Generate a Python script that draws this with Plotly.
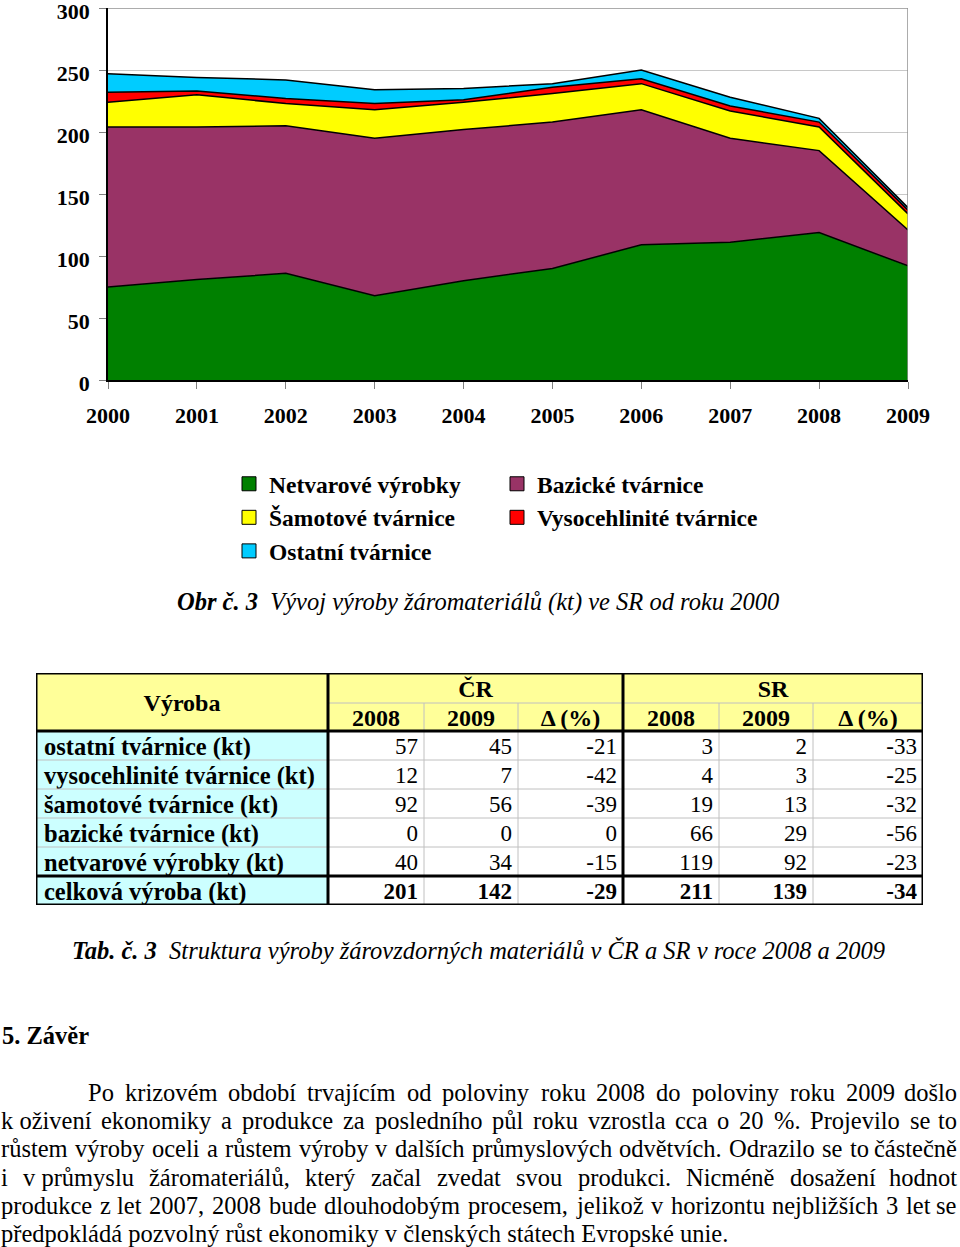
import plotly.graph_objects as go

## DATA

years = [2000, 2001, 2002, 2003, 2004, 2005, 2006, 2007, 2008, 2009]

netvarove = [75, 81, 86, 68, 80, 90, 109, 111, 119, 92]
bazicke = [129, 123, 119, 127, 122, 118, 109, 84, 66, 29]
samotove = [20, 26, 18, 23, 22, 23, 21, 22, 19, 13]
vysocehlinite = [8, 3, 4, 5, 2, 5, 4, 4, 4, 3]
ostatni = [15, 11, 15, 11, 9, 3, 7, 7, 3, 2]

series_names = ["Netvarové výrobky", "Bazické tvárnice", "Šamotové tvárnice",
                "Vysocehlinité tvárnice", "Ostatní tvárnice"]
series_colors = ["#008000", "#993366", "#FFFF00", "#FF0000", "#00CCFF"]

# table
row_labels = ["ostatní tvárnice (kt)", "vysocehlinité tvárnice (kt)", "šamotové tvárnice (kt)",
              "bazické tvárnice (kt)", "netvarové výrobky (kt)", "celková výroba (kt)"]
cr_2008 = [57, 12, 92, 0, 40, 201]
cr_2009 = [45, 7, 56, 0, 34, 142]
cr_delta = [-21, -42, -39, 0, -15, -29]
sr_2008 = [3, 4, 19, 66, 119, 211]
sr_2009 = [2, 3, 13, 29, 92, 139]
sr_delta = [-33, -25, -32, -56, -23, -34]
year_heads = ["2008", "2009", "\u0394 (%)", "2008", "2009", "\u0394 (%)"]

fig_caption = "Obr č. 3"
fig_caption_text = "Vývoj výroby žáromateriálů (kt) ve SR od roku 2000"
tab_caption = "Tab. č. 3"
tab_caption_text = "Struktura výroby žárovzdorných materiálů v ČR a SR v roce 2008 a 2009"
heading = "5. Závěr"
paragraph = [
    "Po krizovém období trvajícím od poloviny roku 2008 do poloviny roku 2009 došlo",
    "k\u00a0oživení ekonomiky a produkce za posledního půl roku vzrostla cca o 20 %. Projevilo se to",
    "růstem výroby oceli a růstem výroby v dalších průmyslových odvětvích. Odrazilo se to částečně",
    "i v\u00a0průmyslu žáromateriálů, který začal zvedat svou produkci. Nicméně dosažení hodnot",
    "produkce z\u00a0let 2007, 2008 bude dlouhodobým procesem, jelikož v horizontu nejbližších 3 let se",
    "předpokládá pozvolný růst ekonomiky v členských státech Evropské unie.",
]

## HELPERS

W, H = 960, 1247
SERIF = "Liberation Serif"


def px(x):
    return x / W


def py(y):
    return 1 - y / H


# Times widths (per 1000 em) to justify the paragraph
base = {' ': 250, '\u00a0': 250, ',': 250, '.': 250, '%': 833, '(': 333, ')': 333,
        'a': 444, 'b': 500, 'c': 444, 'd': 500, 'e': 444, 'f': 333, 'g': 500, 'h': 500,
        'i': 278, 'j': 278, 'k': 500, 'l': 278, 'm': 778, 'n': 500, 'o': 500, 'p': 500,
        'q': 500, 'r': 333, 's': 389, 't': 278, 'u': 500, 'v': 500, 'w': 722, 'x': 500,
        'y': 500, 'z': 444, 'P': 556, 'O': 722, 'N': 722, 'E': 611}
accents = {'á': 'a', 'é': 'e', 'ě': 'e', 'í': 'i', 'ý': 'y', 'ů': 'u', 'ú': 'u', 'č': 'c',
           'ř': 'r', 'š': 's', 'ž': 'z', 'ň': 'n'}


def text_width(s, size):
    tot = 0
    for ch in s:
        ch = accents.get(ch, ch)
        if ch.isdigit():
            tot += 500
        else:
            tot += base.get(ch, 500)
    return tot / 1000 * size


fig = go.Figure()

## AREA CHART

for name, vals, col in zip(series_names,
                           [netvarove, bazicke, samotove, vysocehlinite, ostatni],
                           series_colors):
    fig.add_trace(go.Scatter(x=years, y=vals, stackgroup="one", mode="lines",
                             line=dict(color="black", width=1.5), fillcolor=col,
                             showlegend=False, hoverinfo="skip"))

# legend entries as squares, two columns
left_col = [0, 2, 4]
for i, (name, col) in enumerate(zip(series_names, series_colors)):
    fig.add_trace(go.Scatter(x=[None], y=[None], mode="markers", name=name,
                             marker=dict(symbol="square", size=14, color=col,
                                         line=dict(color="black", width=1)),
                             legend="legend" if i in left_col else "legend2"))

## TABLE

col_w = [292, 96, 94, 105, 96, 94, 110]
row_h = [30, 28, 29, 29, 29, 29, 29, 29]
xe = [0]
for w in col_w:
    xe.append(xe[-1] + w)
ye = [0]
for h in row_h:
    ye.append(ye[-1] + h)

shapes = []
# fills
shapes.append(dict(type="rect", xref="x2", yref="y2", x0=xe[0], x1=xe[-1], y0=ye[0], y1=ye[2],
                   fillcolor="#FFFF99", line_width=0, layer="below"))
shapes.append(dict(type="rect", xref="x2", yref="y2", x0=xe[0], x1=xe[1], y0=ye[2], y1=ye[-1],
                   fillcolor="#CCFFFF", line_width=0, layer="below"))
# thin grid
thin = dict(color="#C0C0C0", width=1)
for k in range(3, 7):
    shapes.append(dict(type="line", xref="x2", yref="y2", x0=xe[0], x1=xe[-1], y0=ye[k], y1=ye[k], line=thin))
shapes.append(dict(type="line", xref="x2", yref="y2", x0=xe[1], x1=xe[-1], y0=ye[1], y1=ye[1], line=thin))
for k in [2, 3, 5, 6]:
    shapes.append(dict(type="line", xref="x2", yref="y2", x0=xe[k], x1=xe[k], y0=ye[1], y1=ye[-1], line=thin))
# thick borders
thick = dict(color="black", width=3)
for k in [2, 7]:
    shapes.append(dict(type="line", xref="x2", yref="y2", x0=xe[0], x1=xe[-1], y0=ye[k], y1=ye[k], line=thick))
for k in [1, 4]:
    shapes.append(dict(type="line", xref="x2", yref="y2", x0=xe[k], x1=xe[k], y0=ye[0], y1=ye[-1], line=thick))
shapes.append(dict(type="rect", xref="x2", yref="y2", x0=xe[0], x1=xe[-1], y0=ye[0], y1=ye[-1], line=thick))

dy = 3  # text sits a little low in the cells
row_c = [(ye[k] + ye[k + 1]) / 2 + dy for k in range(2, 8)]

# header
fig.add_trace(go.Scatter(x=[xe[1] / 2, (xe[1] + xe[4]) / 2, (xe[4] + xe[7]) / 2],
                         y=[ye[2] / 2 + dy, ye[1] / 2 + dy, ye[1] / 2 + dy], text=["Výroba", "ČR", "SR"],
                         mode="text", textposition="middle center", xaxis="x2", yaxis="y2",
                         textfont=dict(family=SERIF, size=24, weight="bold", color="black"),
                         showlegend=False, hoverinfo="skip"))
fig.add_trace(go.Scatter(x=[(xe[k] + xe[k + 1]) / 2 for k in range(1, 7)],
                         y=[(ye[1] + ye[2]) / 2 + dy] * 6, text=year_heads,
                         mode="text", textposition="middle center", xaxis="x2", yaxis="y2",
                         textfont=dict(family=SERIF, size=24, weight="bold", color="black"),
                         showlegend=False, hoverinfo="skip"))
# row labels
fig.add_trace(go.Scatter(x=[8] * 6, y=row_c, text=row_labels, mode="text",
                         textposition="middle right", xaxis="x2", yaxis="y2",
                         textfont=dict(family=SERIF, size=24.5, weight="bold", color="black"),
                         showlegend=False, hoverinfo="skip"))
# values
for k, col in enumerate([cr_2008, cr_2009, cr_delta, sr_2008, sr_2009, sr_delta]):
    fig.add_trace(go.Scatter(x=[xe[k + 2] - 6] * 6, y=row_c, text=[str(v) for v in col],
                             mode="text", textposition="middle left", xaxis="x2", yaxis="y2",
                             textfont=dict(family=SERIF, size=23, color="black",
                                           weight=["normal"] * 5 + ["bold"]),
                             showlegend=False, hoverinfo="skip"))

## TEXT

annotations = []
annotations.append(dict(xref="paper", yref="paper", x=px(478), y=py(602), showarrow=False,
                        xanchor="center", yanchor="middle",
                        text="<b><i>" + fig_caption + "</i></b>\u00a0\u00a0<i>" + fig_caption_text + "</i>",
                        font=dict(family=SERIF, size=24.5, color="black")))
annotations.append(dict(xref="paper", yref="paper", x=px(478), y=py(950), showarrow=False,
                        xanchor="center", yanchor="middle",
                        text="<b><i>" + tab_caption + "</i></b>\u00a0\u00a0<i>" + tab_caption_text + "</i>",
                        font=dict(family=SERIF, size=24.5, color="black")))
annotations.append(dict(xref="paper", yref="paper", x=0, y=py(1035), xanchor="left", yanchor="middle",
                        showarrow=False, text="<b>" + heading + "</b>",
                        font=dict(family=SERIF, size=24.5, color="black")))

fs = 24.5
line_y = [1092, 1120, 1148, 1177, 1205, 1233]
for i, line in enumerate(paragraph):
    x0 = 87 if i == 0 else 0
    if i == len(paragraph) - 1:
        annotations.append(dict(xref="paper", yref="paper", x=px(x0), y=py(line_y[i]), xanchor="left",
                                yanchor="middle", showarrow=False, text=line, borderpad=0,
                                font=dict(family=SERIF, size=fs, color="black")))
        continue
    words = line.split(" ")
    widths = [text_width(w, fs) for w in words]
    gap = (958 - x0 - sum(widths)) / (len(words) - 1)
    x = x0
    for j, w in enumerate(words):
        last = j == len(words) - 1
        annotations.append(dict(xref="paper", yref="paper", x=px(958 if last else x), y=py(line_y[i]),
                                xanchor="right" if last else "left", yanchor="middle",
                                showarrow=False, text=w, borderpad=0,
                                font=dict(family=SERIF, size=fs, color="black")))
        x += widths[j] + gap

# chart border top/right
shapes.append(dict(type="line", xref="x", yref="y", x0=2000, x1=2009, y0=300, y1=300,
                   line=dict(color="#909090", width=1.5)))
shapes.append(dict(type="line", xref="x", yref="y", x0=2009, x1=2009, y0=0, y1=300,
                   line=dict(color="#909090", width=1.5)))

legend_style = dict(yanchor="top", xanchor="left", bgcolor="rgba(0,0,0,0)", traceorder="normal",
                    font=dict(family=SERIF, size=23.5, weight="bold", color="black"),
                    itemclick=False, itemdoubleclick=False)

fig.update_layout(
    width=W, height=H,
    margin=dict(l=0, r=0, t=0, b=0, autoexpand=False),
    paper_bgcolor="white", plot_bgcolor="white",
    font=dict(family=SERIF),
    showlegend=True,
    legend=dict(x=px(229), y=py(462), **legend_style),
    legend2=dict(x=px(497), y=py(462), **legend_style),
    xaxis=dict(domain=[px(108), px(908)], range=[2000, 2009], tickvals=years, automargin=False,
               ticks="outside", ticklen=7, tickcolor="#808080", showgrid=False, zeroline=False,
               showline=True, linecolor="black", linewidth=1.5, ticklabelstandoff=8,
               ticklabeloverflow="allow",
               tickfont=dict(family=SERIF, size=22, weight="bold", color="black")),
    yaxis=dict(domain=[py(380), py(8)], range=[0, 300], tickvals=[0, 50, 100, 150, 200, 250, 300],
               automargin=False, ticklabeloverflow="allow", ticklabelshift=3,
               ticks="outside", ticklen=7, tickcolor="#808080", showgrid=True, gridcolor="#C8C8C8",
               zeroline=False, showline=True, linecolor="black", linewidth=1.5, ticklabelstandoff=5,
               tickfont=dict(family=SERIF, size=22, weight="bold", color="black")),
    xaxis2=dict(domain=[px(36), px(923)], range=[0, xe[-1]], visible=False, anchor="y2", automargin=False),
    yaxis2=dict(domain=[py(905), py(673)], range=[ye[-1], 0], visible=False, anchor="x2", automargin=False),
    shapes=shapes,
    annotations=annotations,
)

# the page body has a default 8px margin; drop it so the figure fills the window
fig.write_html("out.html", config={"displayModeBar": False},
               post_script="document.body.style.margin='0';")
